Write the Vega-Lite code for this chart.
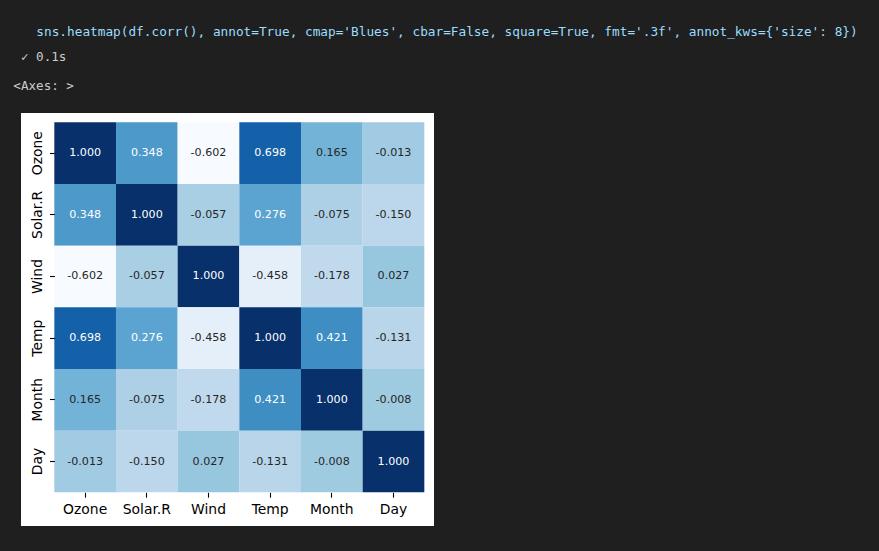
{
  "$schema": "https://vega.github.io/schema/vega-lite/v6.json",
  "background": "#1f1f1f",
  "autosize": "none",
  "width": 413,
  "height": 413,
  "padding": {"left": 21, "top": 113, "right": 445, "bottom": 25},
  "title": {
    "text": "\u200b\u00a0\u00a0\u00a0sns.heatmap(df.corr(), annot=True, cmap='Blues', cbar=False, square=True, fmt='.3f', annot_kws={'size': 8})",
    "subtitle": ["\u200b\u00a0✓\u00a00.1s", "<Axes: >"],
    "anchor": "start",
    "frame": "group",
    "dx": -7.7,
    "offset": 20,
    "font": "DejaVu Sans Mono",
    "fontSize": 12.75,
    "fontWeight": "normal",
    "color": "#9cdcfe",
    "subtitleFont": "DejaVu Sans Mono",
    "subtitleFontSize": 12.6,
    "subtitleColor": "#cccccc",
    "subtitleLineHeight": 29,
    "subtitlePadding": 13
  },
  "config": {
    "view": {"fill": "white", "stroke": null},
    "locale": {
      "number": {"decimal": ".", "thousands": ",", "grouping": [3], "currency": ["$", ""], "minus": "-"}
    }
  },
  "data": {
    "values": [
      {"row": "Ozone", "col": "Ozone", "value": 1.0},
      {"row": "Ozone", "col": "Solar.R", "value": 0.348},
      {"row": "Ozone", "col": "Wind", "value": -0.602},
      {"row": "Ozone", "col": "Temp", "value": 0.698},
      {"row": "Ozone", "col": "Month", "value": 0.165},
      {"row": "Ozone", "col": "Day", "value": -0.013},
      {"row": "Solar.R", "col": "Ozone", "value": 0.348},
      {"row": "Solar.R", "col": "Solar.R", "value": 1.0},
      {"row": "Solar.R", "col": "Wind", "value": -0.057},
      {"row": "Solar.R", "col": "Temp", "value": 0.276},
      {"row": "Solar.R", "col": "Month", "value": -0.075},
      {"row": "Solar.R", "col": "Day", "value": -0.15},
      {"row": "Wind", "col": "Ozone", "value": -0.602},
      {"row": "Wind", "col": "Solar.R", "value": -0.057},
      {"row": "Wind", "col": "Wind", "value": 1.0},
      {"row": "Wind", "col": "Temp", "value": -0.458},
      {"row": "Wind", "col": "Month", "value": -0.178},
      {"row": "Wind", "col": "Day", "value": 0.027},
      {"row": "Temp", "col": "Ozone", "value": 0.698},
      {"row": "Temp", "col": "Solar.R", "value": 0.276},
      {"row": "Temp", "col": "Wind", "value": -0.458},
      {"row": "Temp", "col": "Temp", "value": 1.0},
      {"row": "Temp", "col": "Month", "value": 0.421},
      {"row": "Temp", "col": "Day", "value": -0.131},
      {"row": "Month", "col": "Ozone", "value": 0.165},
      {"row": "Month", "col": "Solar.R", "value": -0.075},
      {"row": "Month", "col": "Wind", "value": -0.178},
      {"row": "Month", "col": "Temp", "value": 0.421},
      {"row": "Month", "col": "Month", "value": 1.0},
      {"row": "Month", "col": "Day", "value": -0.008},
      {"row": "Day", "col": "Ozone", "value": -0.013},
      {"row": "Day", "col": "Solar.R", "value": -0.15},
      {"row": "Day", "col": "Wind", "value": 0.027},
      {"row": "Day", "col": "Temp", "value": -0.131},
      {"row": "Day", "col": "Month", "value": -0.008},
      {"row": "Day", "col": "Day", "value": 1.0}
    ]
  },
  "encoding": {
    "x": {
      "field": "col",
      "type": "nominal",
      "sort": ["Ozone", "Solar.R", "Wind", "Temp", "Month", "Day"],
      "scale": {"paddingInner": 0, "paddingOuter": 0.3486, "align": 0.775},
      "axis": {
        "orient": "bottom",
        "offset": -33.67,
        "title": null,
        "domain": false,
        "grid": false,
        "ticks": true,
        "tickColor": "#000000",
        "tickSize": 4.86,
        "tickWidth": 1.1,
        "labelPadding": 4.86,
        "labelAngle": 0,
        "labelFont": "DejaVu Sans",
        "labelFontSize": 13.9,
        "labelColor": "#000000"
      }
    },
    "y": {
      "field": "row",
      "type": "nominal",
      "sort": ["Ozone", "Solar.R", "Wind", "Temp", "Month", "Day"],
      "scale": {"paddingInner": 0, "paddingOuter": 0.3486, "align": 0.217},
      "axis": {
        "orient": "left",
        "offset": -33.33,
        "title": null,
        "domain": false,
        "grid": false,
        "ticks": true,
        "tickColor": "#000000",
        "tickSize": 4.86,
        "tickWidth": 1.1,
        "labelPadding": 4.86,
        "labelAngle": 270,
        "labelAlign": "center",
        "labelBaseline": "bottom",
        "labelFont": "DejaVu Sans",
        "labelFontSize": 13.9,
        "labelColor": "#000000"
      }
    }
  },
  "layer": [
    {
      "mark": {"type": "rect", "strokeWidth": 0},
      "encoding": {
        "color": {
          "field": "value",
          "type": "quantitative",
          "scale": {
            "domain": [-0.602, -0.40175, -0.2015, -0.00125, 0.199, 0.39925, 0.5995, 0.79975, 1.0],
            "range": ["#f7fbff", "#deebf7", "#c6dbef", "#9ecae1", "#6baed6", "#4292c6", "#2171b5", "#08519c", "#08306b"],
            "interpolate": "rgb"
          },
          "legend": null
        }
      }
    },
    {
      "mark": {"type": "text", "font": "DejaVu Sans", "fontSize": 11.1, "baseline": "middle", "align": "center"},
      "encoding": {
        "text": {"field": "value", "type": "quantitative", "format": ".3f"},
        "color": {
          "condition": {"test": "datum.value > 0.2", "value": "#ffffff"},
          "value": "#262626"
        }
      }
    }
  ]
}
